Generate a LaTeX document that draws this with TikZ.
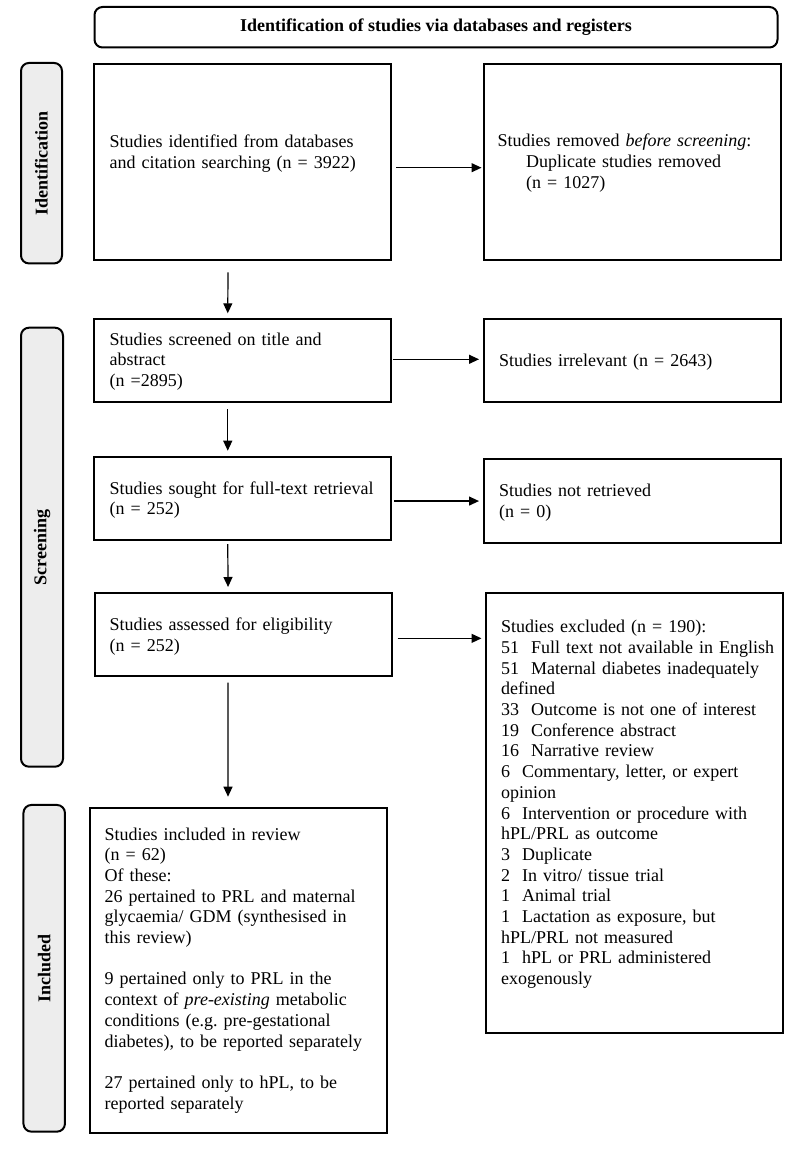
\documentclass[tikz,border=0pt]{standalone}
\usepackage{fontspec}
\setmainfont{Liberation Serif}
\usetikzlibrary{arrows.meta}
\definecolor{sidegray}{RGB}{237,237,237}
\frenchspacing
\begin{document}
\begin{tikzpicture}[x=1pt,y=-1pt,
  box/.style={draw, line width=2pt, inner sep=0pt, anchor=north west},
  side/.style={draw, line width=2pt, rounded corners=8pt, fill=sidegray, inner sep=0pt, anchor=center, rotate=90, font=\bfseries\fontsize{18}{20.7}\selectfont},
  txt/.style={anchor=base west, inner sep=0pt, text width=280pt, align=left, font=\fontsize{18}{20.7}\selectfont},
  arr/.style={line width=1.2pt, -{Triangle[length=10pt,width=9pt]}},
]
\useasboundingbox (0,0) rectangle (790,1155);

% title
\node[draw, line width=2pt, rounded corners=8pt, minimum width=683pt, minimum height=40.5pt, anchor=north west, inner sep=0pt, font=\bfseries\fontsize{18}{20.7}\selectfont] (title) at (93.5,6) {Identification of studies via databases and registers};

% side labels
\node[side, minimum width=200.5pt, minimum height=41pt] (lid) at (41.5,163.2) {Identification};
\node[side, minimum width=439pt, minimum height=42pt] (lscr) at (42,547.2) {Screening};
\node[side, minimum width=326.7pt, minimum height=41.5pt] (linc) at (44.2,968.3) {Included};

% boxes
\node[box, minimum width=297pt, minimum height=196pt] (b1) at (93,63) {};
\node[box, minimum width=297.5pt, minimum height=196pt] (b2) at (482.5,63) {};
\node[box, minimum width=296.5pt, minimum height=83pt] (b3) at (93,317.7) {};
\node[box, minimum width=296.6pt, minimum height=83pt] (b4) at (483.4,317.7) {};
\node[box, minimum width=296.5pt, minimum height=83.3pt] (b5) at (93,455.7) {};
\node[box, minimum width=296.6pt, minimum height=83.7pt] (b6) at (483.4,458) {};
\node[box, minimum width=296.5pt, minimum height=83.3pt] (b7) at (94,591.7) {};
\node[box, minimum width=297pt, minimum height=439.4pt] (b8) at (485.4,592.3) {};
\node[box, minimum width=296.6pt, minimum height=325pt] (b9) at (89.4,806.7) {};

% texts
\node[txt] (t1) at (109.5,147.5) {Studies identified from databases\\and citation searching (n = 3922)};
\node[txt] (t2) at (497.5,146.7) {Studies removed \textit{before screening}:\\\hspace*{28.5pt}Duplicate studies removed\\\hspace*{28.5pt}(n = 1027)};
\node[txt] (t3) at (109.5,345) {Studies screened on title and\\abstract\\(n =2895)};
\node[txt] (t4) at (499,366) {Studies irrelevant (n = 2643)};
\node[txt] (t5) at (109.5,494) {Studies sought for full-text retrieval\\(n = 252)};
\node[txt] (t6) at (499,496.7) {Studies not retrieved\\(n = 0)};
\node[txt] (t7) at (109.5,630.7) {Studies assessed for eligibility\\(n = 252)};
\node[txt] (t8) at (501,632.7) {Studies excluded (n = 190):\\
51~~Full text not available in English\\
51~~Maternal diabetes inadequately\\
defined\\
33~~Outcome is not one of interest\\
19~~Conference abstract\\
16~~Narrative review\\
6~~Commentary, letter, or expert\\
opinion\\
6~~Intervention or procedure with\\
hPL/PRL as outcome\\
3~~Duplicate\\
2~~In vitro/ tissue trial\\
1~~Animal trial\\
1~~Lactation as exposure, but\\
hPL/PRL not measured\\
1~~hPL or PRL administered\\
exogenously};
\node[txt] (t9) at (104.5,840) {Studies included in review\\
(n = 62)\\
Of these:\\
26 pertained to PRL and maternal\\
glycaemia/ GDM (synthesised in\\
this review)\\[20.7pt]
9 pertained only to PRL in the\\
context of \textit{pre-existing} metabolic\\
conditions (e.g. pre-gestational\\
diabetes), to be reported separately\\[20.7pt]
27 pertained only to hPL, to be\\
reported separately};

% vertical arrows
\draw[arr] ([xshift=-14.5pt,yshift=-11.3pt]b1.south) -- ([xshift=-14.5pt,yshift=4.4pt]b3.north);
\draw[arr] ([xshift=-14.5pt,yshift=-6.3pt]b3.south) -- ([xshift=-14.5pt,yshift=5pt]b5.north);
\draw[arr] ([xshift=-14.5pt,yshift=-3pt]b5.south) -- ([xshift=-15.2pt,yshift=4.7pt]b7.north);
\draw[arr] ([xshift=-15.2pt,yshift=-5.7pt]b7.south) -- ([xshift=-10.7pt,yshift=10pt]b9.north);

% horizontal arrows
\coordinate (s12) at ([xshift=4pt,yshift=-5.7pt]b1.east);
\coordinate (s34) at ([xshift=1pt,yshift=0.9pt]b3.east);
\coordinate (s56) at ([xshift=2.5pt,yshift=-2.7pt]b5.east);
\coordinate (s78) at ([xshift=5pt,yshift=-4pt]b7.east);
\draw[arr, shorten >=1pt] (s12) -- (b2.west |- s12);
\draw[arr, shorten >=4.4pt] (s34) -- (b4.west |- s34);
\draw[arr, shorten >=4.4pt] (s56) -- (b6.west |- s56);
\draw[arr, shorten >=3.9pt] (s78) -- (b8.west |- s78);
\end{tikzpicture}
\end{document}
